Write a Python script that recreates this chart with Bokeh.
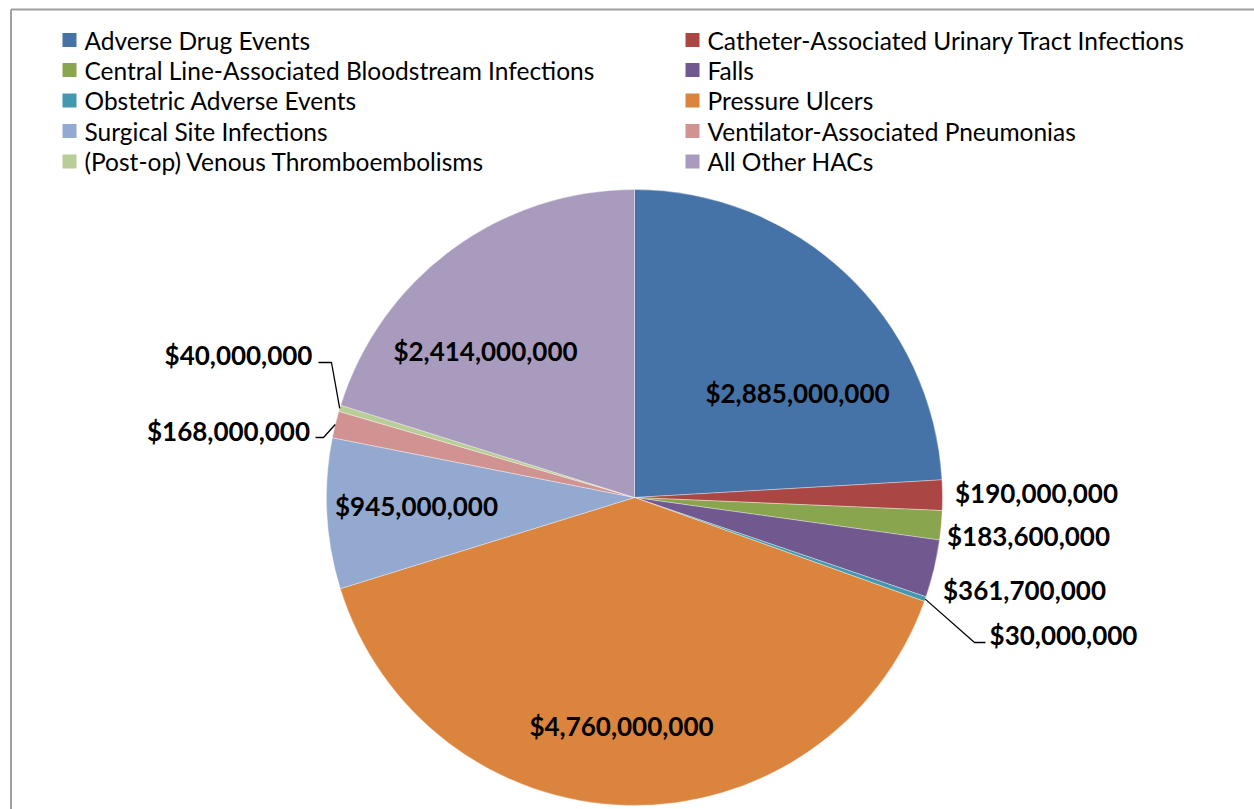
import math
from bokeh.plotting import figure
from bokeh.models import Range1d
from bokeh.core.properties import value
from bokeh.embed import file_html
from bokeh.resources import INLINE

# ---------------- data ----------------
categories = [
    "Adverse Drug Events",
    "Catheter-Associated Urinary Tract Infections",
    "Central Line-Associated Bloodstream Infections",
    "Falls",
    "Obstetric Adverse Events",
    "Pressure Ulcers",
    "Surgical Site Infections",
    "Ventilator-Associated Pneumonias",
    "(Post-op) Venous Thromboembolisms",
    "All Other HACs",
]
costs = [2885000000, 190000000, 183600000, 361700000, 30000000,
         4760000000, 945000000, 168000000, 40000000, 2414000000]
colors = ["#4572A7", "#AA4643", "#89A54E", "#71588F", "#4198AF",
          "#DB843D", "#93A9CF", "#D19392", "#B9CD96", "#A99BBD"]

# ---------------- layout ----------------
W, H = 1254, 809
CX, CY, R = 634, 497, 308          # pie centre / radius in picture pixels


def Y(y_img):
    return H - y_img


# label centres (picture pixels)
label_pos = [(797, 392), (1036, 492), (1028, 535), (1024, 589), (1063, 634),
             (621, 725), (416, 505), (228, 430), (238, 354), (485, 350)]
# leader lines: slice index -> elbow points (after the pie edge point)
leaders = {4: [(974, 642), (985, 642)],
           7: [(323, 437), (315, 437)],
           8: [(331, 362), (318, 362)]}

p = figure(width=W, height=H, x_range=Range1d(0, W), y_range=Range1d(0, H),
           output_backend="svg", toolbar_location=None, min_border=0,
           x_axis_location=None, y_axis_location=None)
p.grid.visible = False
p.outline_line_color = None
p.background_fill_color = "white"
p.border_fill_color = "white"

# chart frame (only top & left edges visible)
p.line([10.5, 10.5], [Y(815), Y(9)], line_color="#a0a0a0", line_width=2)
p.line([10.5, 1260], [Y(9), Y(9)], line_color="#a0a0a0", line_width=2)

total = float(sum(costs))
starts, ends, mids = [], [], []
cum = 0.0
for v in costs:
    f0 = cum / total
    cum += v
    f1 = cum / total
    starts.append(math.pi / 2 - 2 * math.pi * f0)
    ends.append(math.pi / 2 - 2 * math.pi * f1)
    mids.append((f0 + f1) / 2)

p.wedge(x=[CX] * len(costs), y=[Y(CY)] * len(costs), radius=R,
        start_angle=starts, end_angle=ends, direction="clock",
        fill_color=colors, line_color="white", line_width=0.6, line_alpha=0.6)

# leader lines
for i, pts in leaders.items():
    a = 2 * math.pi * mids[i]
    ex = CX + R * math.sin(a)
    ey = CY - R * math.cos(a)
    xs = [ex] + [q[0] for q in pts]
    ys = [Y(ey)] + [Y(q[1]) for q in pts]
    p.line(xs, ys, line_color="black", line_width=1.3)

# data labels
labels = ["$" + f"{v:,}" for v in costs]
p.text(x=[q[0] for q in label_pos], y=[Y(q[1]) for q in label_pos], text=labels,
       text_font=value("Lato"), text_font_style="bold", text_font_size="26px",
       text_align="center", text_baseline="middle", text_color="black")

# legend
leg_col_sq = [69, 692]
leg_col_tx = [84, 707]
leg_rows = [39.5, 69.5, 100, 130.5, 161]
sx, sy, tx, ty = [], [], [], []
for i, c in enumerate(categories):
    col, row = i % 2, i // 2
    sx.append(leg_col_sq[col]); sy.append(Y(leg_rows[row]))
    tx.append(leg_col_tx[col]); ty.append(Y(leg_rows[row]))
p.scatter(x=sx, y=sy, marker="square", size=14, fill_color=colors, line_color=None)
p.text(x=tx, y=ty, text=categories, text_font=value("Lato"), text_font_size="24.5px",
       text_align="left", text_baseline="middle", text_color="black")

open("out.html", "w").write(file_html(p, INLINE))
